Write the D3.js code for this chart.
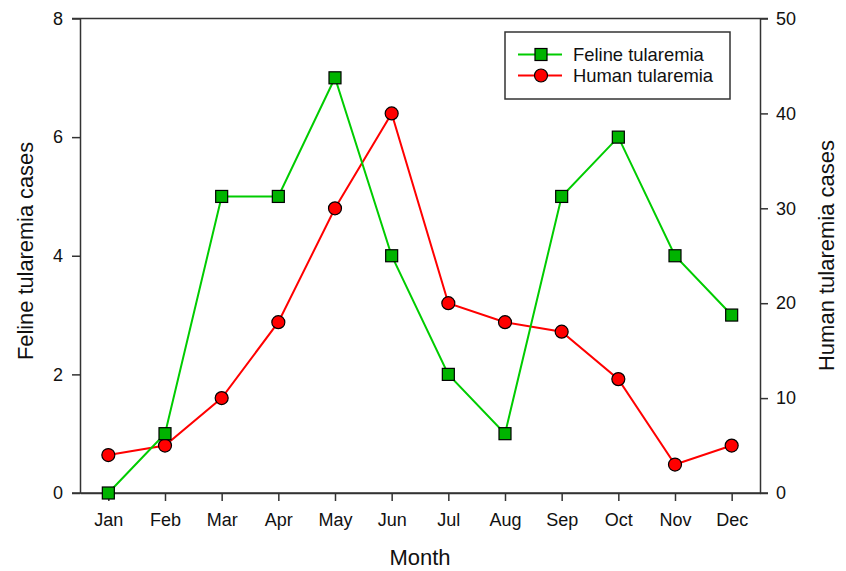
<!DOCTYPE html>
<html><head><meta charset="utf-8">
<script src="https://cdn.jsdelivr.net/npm/d3@7"></script>
<style>body{margin:0;background:#fff}text{font-family:"Liberation Sans",Arial,sans-serif;fill:#111}</style>
</head><body><svg id="c" width="846" height="571"></svg>
<script>
const months = ["Jan","Feb","Mar","Apr","May","Jun","Jul","Aug","Sep","Oct","Nov","Dec"];
const feline = [0,1,5,5,7,4,2,1,5,6,4,3];
const human = [4,5,10,18,30,40,20,18,17,12,3,5];
const leftTicks = [0,2,4,6,8];
const rightTicks = [0,10,20,30,40,50];

const svg = d3.select("#c");
const L=80,R=760,T=18.5,B=493;
const x = d3.scalePoint().domain(months).range([L,R]).padding(0.5);
const yL = d3.scaleLinear().domain([0,8]).range([B,T]);
const yR = d3.scaleLinear().domain([0,50]).range([B,T]);
const axisCol="#333";

const gx = svg.append("g").attr("transform",`translate(0,${B})`).call(d3.axisBottom(x).tickSize(8).tickPadding(12).tickSizeOuter(0));
const gl = svg.append("g").attr("transform",`translate(${L},0)`).call(d3.axisLeft(yL).tickValues(leftTicks).tickSize(8).tickPadding(9).tickSizeOuter(0));
const gr = svg.append("g").attr("transform",`translate(${R},0)`).call(d3.axisRight(yR).tickValues(rightTicks).tickSize(8).tickPadding(8).tickSizeOuter(0));
[gx,gl,gr].forEach(g=>{
  g.selectAll("path").attr("stroke",axisCol).attr("stroke-width",1.5);
  g.selectAll("line").attr("stroke",axisCol).attr("stroke-width",1.5);
  g.selectAll("text").attr("font-size",18).attr("font-family","Liberation Sans, Arial, sans-serif").attr("fill","#111");
});
svg.append("line").attr("x1",L-8).attr("x2",R+8).attr("y1",B).attr("y2",B).attr("stroke",axisCol).attr("stroke-width",1.5);
svg.append("line").attr("x1",L-8).attr("x2",R+8).attr("y1",T).attr("y2",T).attr("stroke",axisCol).attr("stroke-width",1.5);

// titles
svg.append("text").attr("x",420).attr("y",565).attr("text-anchor","middle").attr("font-size",22).text("Month");
svg.append("text").attr("transform",`translate(33,251) rotate(-90)`).attr("text-anchor","middle").attr("font-size",21.8).text("Feline tularemia cases");
svg.append("text").attr("transform",`translate(833.5,255.5) rotate(-90)`).attr("text-anchor","middle").attr("font-size",22).text("Human tularemia cases");

const green="#00cc00", greenFill="#00b300", red="#ff0000";
svg.append("path").datum(human).attr("fill","none").attr("stroke",red).attr("stroke-width",2)
  .attr("d",d3.line().x((d,i)=>x(months[i])).y(d=>yR(d)));
svg.append("path").datum(feline).attr("fill","none").attr("stroke",green).attr("stroke-width",2)
  .attr("d",d3.line().x((d,i)=>x(months[i])).y(d=>yL(d)));
svg.selectAll("circle.h").data(human).join("circle").attr("class","h")
  .attr("cx",(d,i)=>x(months[i])).attr("cy",d=>yR(d)).attr("r",6.5)
  .attr("fill",red).attr("stroke","#000").attr("stroke-width",1.2);
svg.selectAll("rect.f").data(feline).join("rect").attr("class","f")
  .attr("x",(d,i)=>x(months[i])-6).attr("y",d=>yL(d)-6).attr("width",12).attr("height",12)
  .attr("fill",greenFill).attr("stroke","#000").attr("stroke-width",1.2);

// legend
const lg = svg.append("g");
lg.append("rect").attr("x",505).attr("y",32).attr("width",225).attr("height",67).attr("fill","#fff").attr("stroke",axisCol).attr("stroke-width",1.5);
lg.append("line").attr("x1",518).attr("x2",562).attr("y1",54.5).attr("y2",54.5).attr("stroke",green).attr("stroke-width",2);
lg.append("rect").attr("x",535).attr("y",48.5).attr("width",12).attr("height",12).attr("fill",greenFill).attr("stroke","#000").attr("stroke-width",1.2);
lg.append("text").attr("x",573).attr("y",61).attr("font-size",18.4).text("Feline tularemia");
lg.append("line").attr("x1",518).attr("x2",562).attr("y1",75.5).attr("y2",75.5).attr("stroke",red).attr("stroke-width",2);
lg.append("circle").attr("cx",541).attr("cy",75.5).attr("r",6.5).attr("fill",red).attr("stroke","#000").attr("stroke-width",1.2);
lg.append("text").attr("x",573).attr("y",82).attr("font-size",18.4).text("Human tularemia");
</script></body></html>
